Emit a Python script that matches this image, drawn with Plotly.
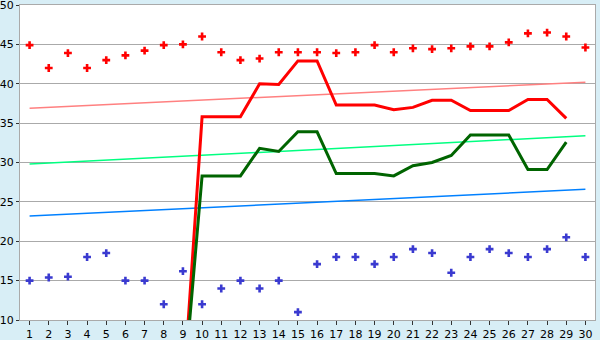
import plotly.graph_objects as go

days = list(range(1, 31))

# upper scatter (red crosses)
red_points = [44.9, 42.0, 43.9, 42.0, 43.0, 43.6, 44.2, 44.9, 45.0, 46.0,
              44.0, 43.0, 43.2, 44.0, 44.0, 44.0, 43.9, 44.0, 44.9, 44.0,
              44.5, 44.4, 44.5, 44.75, 44.75, 45.25, 46.4, 46.5, 46.0, 44.6]

# lower scatter (blue crosses)
blue_points = [15.0, 15.4, 15.5, 18.0, 18.5, 15.0, 15.0, 12.0, 16.2, 12.0,
               14.0, 15.0, 14.0, 15.0, 11.0, 17.1, 18.0, 18.0, 17.1, 18.0,
               19.0, 18.5, 16.0, 18.0, 19.0, 18.5, 18.0, 19.0, 20.5, 18.0]

# thick lines (days 9..29)
line_days = list(range(9, 30))
red_line = [0.0, 35.8, 35.8, 35.8, 40.0, 39.9, 42.9, 42.9, 37.3, 37.3, 37.3,
            36.7, 37.0, 37.9, 37.9, 36.6, 36.6, 36.6, 38.0, 38.0, 35.6]
green_line = [0.0, 28.3, 28.3, 28.3, 31.8, 31.4, 33.9, 33.9, 28.6, 28.6, 28.6,
              28.3, 29.6, 30.0, 30.9, 33.5, 33.5, 33.5, 29.1, 29.1, 32.6]

# trend lines (start at day 1, end at day 30)
trend_days = [1, 30]
trend_red = [36.9, 40.2]
trend_green = [29.8, 33.4]
trend_blue = [23.2, 26.6]

y_ticks = [10, 15, 20, 25, 30, 35, 40, 45, 50]

fig = go.Figure()

fig.add_trace(go.Scatter(x=trend_days, y=trend_red, mode="lines",
                         line=dict(color="#ff8080", width=1.5)))
fig.add_trace(go.Scatter(x=trend_days, y=trend_green, mode="lines",
                         line=dict(color="#00ff80", width=1.5)))
fig.add_trace(go.Scatter(x=trend_days, y=trend_blue, mode="lines",
                         line=dict(color="#0080ff", width=1.5)))

fig.add_trace(go.Scatter(x=line_days, y=red_line, mode="lines",
                         line=dict(color="#ff0000", width=3)))
fig.add_trace(go.Scatter(x=line_days, y=green_line, mode="lines",
                         line=dict(color="#006400", width=3)))

fig.add_trace(go.Scatter(x=days, y=red_points, mode="markers",
                         marker=dict(symbol="cross", size=6.5, color="#ff0000",
                                     line=dict(width=0))))
fig.add_trace(go.Scatter(x=days, y=blue_points, mode="markers",
                         marker=dict(symbol="cross", size=6.5, color="#3a3ad0",
                                     line=dict(width=0))))

fig.update_layout(
    width=600, height=340,
    margin=dict(l=20, r=5, t=5, b=20, autoexpand=False),
    paper_bgcolor="#d8eef6",
    plot_bgcolor="#ffffff",
    showlegend=False,
    font=dict(family="DejaVu Sans", size=11, color="#000000"),
)
fig.update_xaxes(
    range=[0.5, 30.5], tickmode="array", tickvals=days,
    ticks="outside", ticklen=4, tickcolor="#333333", tickwidth=1,
    showgrid=False, zeroline=False, automargin=False,
    showline=True, linecolor="#aaaaaa", linewidth=1, mirror=True,
    tickfont=dict(size=11), ticklabeloverflow="allow",
)
fig.update_yaxes(
    range=[10, 50], tickmode="array", tickvals=y_ticks,
    ticks="outside", ticklen=3, tickcolor="#333333", tickwidth=1,
    showgrid=True, gridcolor="#aaaaaa", gridwidth=1, zeroline=False,
    automargin=False,
    showline=True, linecolor="#aaaaaa", linewidth=1, mirror=True,
    tickfont=dict(size=11), ticklabeloverflow="allow",
)

fig.write_html("out.html")
